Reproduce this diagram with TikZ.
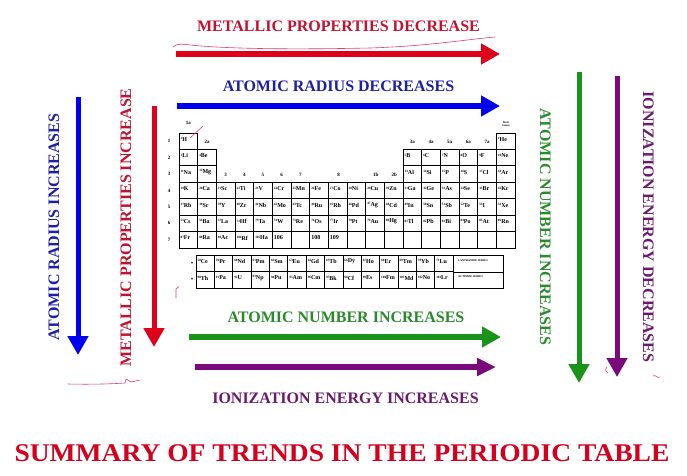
\documentclass[tikz,border=0pt]{standalone}
\usepackage{fontspec}
\setmainfont{Liberation Serif}
\usetikzlibrary{arrows.meta}
\definecolor{titlered}{HTML}{D4001E}
\definecolor{txtred}{HTML}{C31230}
\definecolor{arrred}{HTML}{E0001A}
\definecolor{txtblue}{HTML}{1E1EA6}
\definecolor{arrblue}{HTML}{0000EE}
\definecolor{txtgreen}{HTML}{2C8A2C}
\definecolor{arrgreen}{HTML}{1A931A}
\definecolor{txtpurple}{HTML}{6A1A6E}
\definecolor{arrpurple}{HTML}{7A0A7C}
\definecolor{handred}{HTML}{E0406A}
\tikzset{
  bigarrow/.style={line width=5.5pt, -{Triangle[width=20pt,length=19pt]}},
  lab/.style={font=\bfseries\fontsize{16}{16}\selectfont, inner sep=0pt, anchor=base},
  cellbox/.style={draw=black, line width=0.75pt, inner sep=0pt, outer sep=0pt,
    minimum width=18.67pt, minimum height=16.43pt, anchor=north west},
  lancell/.style={draw=black, line width=0.75pt, inner sep=0pt, outer sep=0pt,
    minimum width=18.36pt, minimum height=16.5pt, anchor=north west},
  celltext/.style={font=\bfseries\fontsize{6}{6}\selectfont, inner sep=0pt, anchor=west},
  small/.style={font=\bfseries\fontsize{5}{5}\selectfont, inner sep=0pt},
  hand/.style={draw=handred, line width=0.6pt, line cap=round, line join=round},
}
\newcommand\nsup[1]{\raisebox{1.6pt}{\fontsize{3.3}{3.3}\selectfont #1}}
\newcommand\elcell[4]{%
  \node[cellbox] (e-#1-#2) at ({179+(#2-1)*18.67},{133+(#1-1)*16.43}) {};
  \node[celltext] (t-#1-#2) at ([xshift=1.4pt,yshift=1.8pt]e-#1-#2.west) {\nsup{#3}#4};
}
\newcommand\lncell[4]{%
  \node[lancell] (l-#1-#2) at ({196+(#2-1)*18.36},{255+(#1-1)*16.5}) {};
  \node[celltext] (lt-#1-#2) at ([xshift=1.4pt,yshift=1.8pt]l-#1-#2.west) {\nsup{#3}#4};
}
\begin{document}
\begin{tikzpicture}[x=1pt,y=-1pt]
\useasboundingbox (0,0) rectangle (687,475);
\fill[white] (0,0) rectangle (687,475);

% ---------- arrow end points ----------
\coordinate (rt0) at (176,54);  \coordinate (rt1) at (500,54);
\coordinate (bt0) at (177,106); \coordinate (bt1) at (500,106);
\coordinate (bv0) at (78,97);   \coordinate (bv1) at (78,355);
\coordinate (rv0) at (154,106); \coordinate (rv1) at (154,347);
\coordinate (gv0) at (579,72);  \coordinate (gv1) at (579,383);
\coordinate (pv0) at (617,76);  \coordinate (pv1) at (617,377);
\coordinate (gb0) at (189,337); \coordinate (gb1) at (501,337);
\coordinate (pb0) at (195,367); \coordinate (pb1) at (496,367);

\draw[bigarrow, arrred, line width=6pt] (rt0) -- (rt1);
\draw[bigarrow, arrblue, line width=6pt] (bt0) -- (bt1);
\draw[bigarrow, arrblue, line width=5pt] (bv0) -- (bv1);
\draw[bigarrow, arrred, line width=5pt] (rv0) -- (rv1);
\draw[bigarrow, arrgreen, line width=5pt] (gv0) -- (gv1);
\draw[bigarrow, arrpurple, line width=5pt] (pv0) -- (pv1);
\draw[bigarrow, arrgreen, line width=5.7pt] (gb0) -- (gb1);
\draw[bigarrow, arrpurple, line width=5.3pt, -{Triangle[width=17pt,length=19pt]}] (pb0) -- (pb1);

% ---------- labels ----------
\node[lab, txtred] (lmpd) at (338.5,31) {METALLIC PROPERTIES DECREASE};
\node[lab, txtblue] (lard) at (338.5,91) {ATOMIC RADIUS DECREASES};
\node[lab, txtgreen] (lani) at (346,322) {ATOMIC NUMBER INCREASES};
\node[lab, txtpurple] (liei) at (345.5,403) {IONIZATION ENERGY INCREASES};
\node[lab, txtblue, rotate=90] (lari) at (59,227) {ATOMIC RADIUS INCREASES};
\node[lab, txtred, rotate=90] (lmpi) at (131,227.5) {METALLIC PROPERTIES INCREASE};
\node[lab, txtgreen, rotate=-90] (lanv) at (540,227) {ATOMIC NUMBER INCREASES};
\node[lab, txtpurple, rotate=-90] (liev) at (643,227) {IONIZATION ENERGY DECREASES};
\node[inner sep=0pt, anchor=base, titlered, xscale=1.08, font=\bfseries\fontsize{25.5}{26}\selectfont] (title) at (342,461.5) {SUMMARY OF TRENDS IN THE PERIODIC TABLE};

% ---------- periodic table ----------
\elcell{1}{1}{1}{H}
\elcell{1}{18}{2}{He}
\elcell{2}{1}{3}{Li}
\elcell{2}{2}{4}{Be}
\foreach \n/\s [count=\c from 13] in {5/B,6/C,7/N,8/O,9/F,10/Ne} {\elcell{2}{\c}{\n}{\s}}
\elcell{3}{1}{11}{Na}
\elcell{3}{2}{12}{Mg}
\foreach \n/\s [count=\c from 13] in {13/Al,14/Si,15/P,16/S,17/Cl,18/Ar} {\elcell{3}{\c}{\n}{\s}}
\foreach \n/\s [count=\c] in {19/K,20/Ca,21/Sc,22/Ti,23/V,24/Cr,25/Mn,26/Fe,27/Co,28/Ni,29/Cu,30/Zn,31/Ga,32/Ge,33/As,34/Se,35/Br,36/Kr} {\elcell{4}{\c}{\n}{\s}}
\foreach \n/\s [count=\c] in {37/Rb,38/Sr,39/Y,40/Zr,41/Nb,42/Mo,43/Tc,44/Ru,45/Rh,46/Pd,47/Ag,48/Cd,49/In,50/Sn,51/Sb,52/Te,53/I,54/Xe} {\elcell{5}{\c}{\n}{\s}}
\foreach \n/\s [count=\c] in {55/Cs,56/Ba,57/La,72/Hf,73/Ta,74/W,75/Re,76/Os,77/Ir,78/Pt,79/Au,80/Hg,81/Tl,82/Pb,83/Bi,84/Po,85/At,86/Rn} {\elcell{6}{\c}{\n}{\s}}
\foreach \n/\s [count=\c] in {87/Fr,88/Ra,89/Ac,104/Rf,105/Ha} {\elcell{7}{\c}{\n}{\s}}
\foreach \c/\s in {6/106,7/{},8/108,9/109,10/{},11/{},12/{},13/{},14/{},15/{},16/{},17/{},18/{}} {\elcell{7}{\c}{}{\s}}

% row numbers
\foreach \r in {1,...,7} {\node[small] (rn-\r) at (169,{141.2+(\r-1)*16.43}) {\r};}
% group labels
\node[small] (g1a) at (188.3,123) {1a};
\node[small] (g2a) at (207,142) {2a};
\foreach \g [count=\c from 3] in {3,4,5,6,7} {\node[small] (gb-\g) at ({188.3+(\c-1)*18.67},175) {\g};}
\node[small] (g8) at (338.7,175) {8};
\node[small] (g1b) at (375.7,175) {1b};
\node[small] (g2b) at (394.3,175) {2b};
\foreach \g [count=\c from 13] in {3a,4a,5a,6a,7a} {\node[small] (ga-\g) at ({188.3+(\c-1)*18.67},142) {\g};}
\node[inner sep=0pt, font=\bfseries\fontsize{3}{3.4}\selectfont, align=center] (noble) at (506,124) {Inert\\Gases};

% lanthanides / actinides
\foreach \n/\s [count=\c] in {58/Ce,59/Pr,60/Nd,61/Pm,62/Sm,63/Eu,64/Gd,65/Tb,66/Dy,67/Ho,68/Er,69/Tm,70/Yb,71/Lu} {\lncell{1}{\c}{\n}{\s}}
\foreach \n/\s [count=\c] in {90/Th,91/Pa,92/U,93/Np,94/Pu,95/Am,96/Cm,97/Bk,98/Cf,99/Es,100/Fm,101/Md,102/No,103/Lr} {\lncell{2}{\c}{\n}{\s}}
\node[draw=black, line width=0.75pt, minimum width=50pt, minimum height=16.5pt, anchor=north west, inner sep=0pt] (lanlab) at (453,255) {};
\node[draw=black, line width=0.75pt, minimum width=50pt, minimum height=16.5pt, anchor=north west, inner sep=0pt] (actlab) at (453,271.5) {};
\node[inner sep=0pt, anchor=west, font=\bfseries\fontsize{2.8}{3}\selectfont] (lantxt) at (458,261) {LANTHANIDE SERIES};
\node[inner sep=0pt, anchor=west, font=\bfseries\fontsize{2.8}{3}\selectfont] (acttxt) at (458,277) {ACTINIDE SERIES};
\node[small] (st1) at (192,263.5) {*};
\node[small] (st2) at (192,280) {*};

% ---------- handwritten marks ----------
\draw[hand] (173,47) .. controls (176,44) and (180,43.5) .. (190,45) .. controls (240,50) and (320,49) .. (370,48) .. controls (430,46) and (470,39) .. (495,37);
\draw[hand] (68,384) .. controls (90,384.5) and (110,384) .. (125,383) -- (126,379) -- (131,382) -- (140,380);
\draw[hand] (190,138) -- (203,126);
\draw[hand] (176,298) -- (176,289) .. controls (177,287) .. (179,286.5);
\draw[hand] (607,367) .. controls (605,370) .. (608,373);
\draw[hand] (653,376) .. controls (656,374) and (657,379) .. (660,377);
\end{tikzpicture}
\end{document}
